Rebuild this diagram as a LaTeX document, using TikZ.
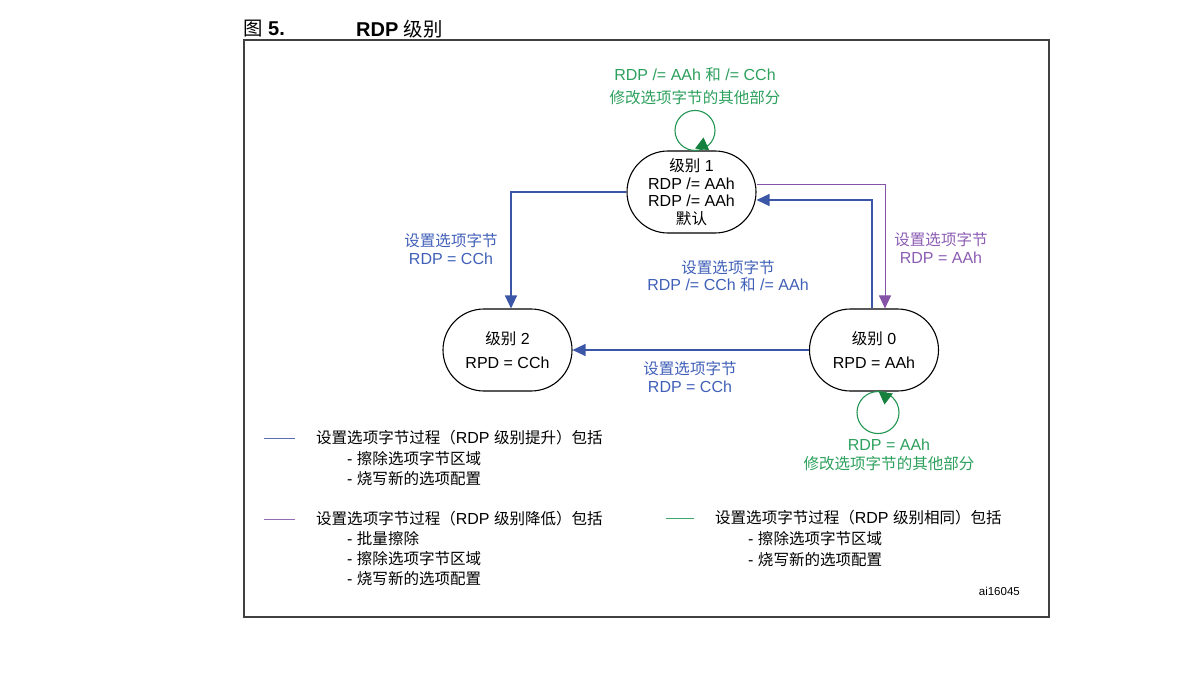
\documentclass[tikz,border=0pt]{standalone}
\usepackage{fontspec}
\setmainfont{Liberation Sans}
\newfontfamily\cjk[Scale=0.97]{Noto Sans CJK SC}
\newcommand{\zh}[1]{{\cjk #1}}
\usepackage{tikz}
\usetikzlibrary{arrows.meta}

\definecolor{rdpblue}{RGB}{59,86,166}
\definecolor{rdppurple}{RGB}{132,82,166}
\definecolor{rdpgreen}{RGB}{34,150,82}
\definecolor{tipgreen}{RGB}{22,128,62}
\definecolor{txtblue}{RGB}{64,96,184}
\definecolor{txtpurple}{RGB}{140,92,180}
\definecolor{txtgreen}{RGB}{44,160,92}

\begin{document}
\begin{tikzpicture}[
  x=1pt, y=-1pt,
  state/.style={draw, line width=1.1pt, rounded corners=41pt,
                minimum width=129pt, minimum height=82pt, inner sep=0pt,
                align=center, font=\fontsize{16}{17.7}\selectfont},
  lbl/.style={align=center, font=\fontsize{16}{17.5}\selectfont},
  legend/.style={anchor=west, inner sep=0pt, font=\fontsize{16}{17.5}\selectfont},
  raise/.style={draw=rdpblue, line width=1.2pt,
                -{Triangle[length=13pt,width=12pt]}, rdpblue},
  lower/.style={draw=rdppurple, line width=1pt,
                -{Triangle[length=13pt,width=12pt]}, rdppurple},
  loopline/.style={draw=rdpgreen, line width=1.1pt},
  same/.style={draw=tipgreen, line width=1.1pt,
               -{Triangle[length=12pt,width=14pt]}, tipgreen}
]
\useasboundingbox (0,0) rectangle (1184,682);
% title and frame
\node[anchor=west, inner sep=0pt, font=\fontsize{20}{22}\selectfont] (fig) at (243,29) {\zh{图} \textbf{5.}};
\node[anchor=west, inner sep=0pt, font=\fontsize{20}{22}\selectfont] (title) at (356,29) {\textbf{RDP} \zh{级别}};
\draw[black!75, line width=1.1pt] (244,40) rectangle (1049,617);
% states
\node[state] (lvl1) at (691.5,192) {\zh{级别} 1\\RDP /= AAh\\RDP /= AAh\\\zh{默认}};
\node[state] (lvl2) at (507.5,350) {\zh{级别} 2\\[6.3pt]RPD = CCh};
\node[state] (lvl0) at (874,350) {\zh{级别} 0\\[6.3pt]RPD = AAh};
% transitions
\draw[raise] (lvl1.west) -| ([xshift=3.5pt]lvl2.north);
\draw[raise] ([xshift=-2pt]lvl0.north) |- ([yshift=-8pt]lvl1.east);
\draw[raise] (lvl0.west) -- (lvl2.east);
\draw[lower] ([yshift=7pt]lvl1.east) -| ([xshift=11pt]lvl0.north);
% self loops
\draw[loopline] ([shift={(3.5,-20)}]lvl1.north) circle[radius=20];
\draw[same] ([xshift=10.5pt]lvl1.north) -- ++(1.5,-13);
\draw[loopline] ([shift={(4,21)}]lvl0.south) circle[radius=21];
\draw[same] ([xshift=12pt]lvl0.south) -- ++(-1.5,13);
% transition labels
\node[lbl, text=txtgreen, font=\fontsize{16}{23}\selectfont] (loop1txt) at (695,86) {RDP /= AAh \zh{和} /= CCh\\\zh{修改选项字节的其他部分}};
\node[lbl, text=txtgreen, font=\fontsize{16}{19}\selectfont] (loop0txt) at (889,455) {RDP = AAh\\\zh{修改选项字节的其他部分}};
\node[lbl, text=txtblue] (to2txt) at (451,249) {\zh{设置选项字节}\\RDP = CCh};
\node[lbl, text=txtblue] (to1txt) at (728,276) {\zh{设置选项字节}\\RDP /= CCh \zh{和} /= AAh};
\node[lbl, text=txtpurple] (to0txt) at (941,248) {\zh{设置选项字节}\\RDP = AAh};
\node[lbl, text=txtblue] (across) at (690,377) {\zh{设置选项字节}\\RDP = CCh};
% legend
\draw[rdpblue!85, line width=1pt] (264,438) -- (295,438);
\node[legend] (leg1) at (316,438) {\zh{设置选项字节过程（}RDP \zh{级别提升）包括}};
\node[legend] (leg1a) at (347,459) {- \zh{擦除选项字节区域}};
\node[legend] (leg1b) at (347,479) {- \zh{烧写新的选项配置}};
\draw[rdppurple!85, line width=1pt] (264,519) -- (295,519);
\node[legend] (leg2) at (316,519) {\zh{设置选项字节过程（}RDP \zh{级别降低）包括}};
\node[legend] (leg2a) at (347,539) {- \zh{批量擦除}};
\node[legend] (leg2b) at (347,559) {- \zh{擦除选项字节区域}};
\node[legend] (leg2c) at (347,579) {- \zh{烧写新的选项配置}};
\draw[rdpgreen!85, line width=1pt] (666,518) -- (694,518);
\node[legend] (leg3) at (715,518) {\zh{设置选项字节过程（}RDP \zh{级别相同）包括}};
\node[legend] (leg3a) at (748,539) {- \zh{擦除选项字节区域}};
\node[legend] (leg3b) at (748,560) {- \zh{烧写新的选项配置}};
\node[anchor=east, inner sep=0pt, font=\fontsize{11.5}{13}\selectfont] (code) at (1020,591) {ai16045};
\end{tikzpicture}
\end{document}
